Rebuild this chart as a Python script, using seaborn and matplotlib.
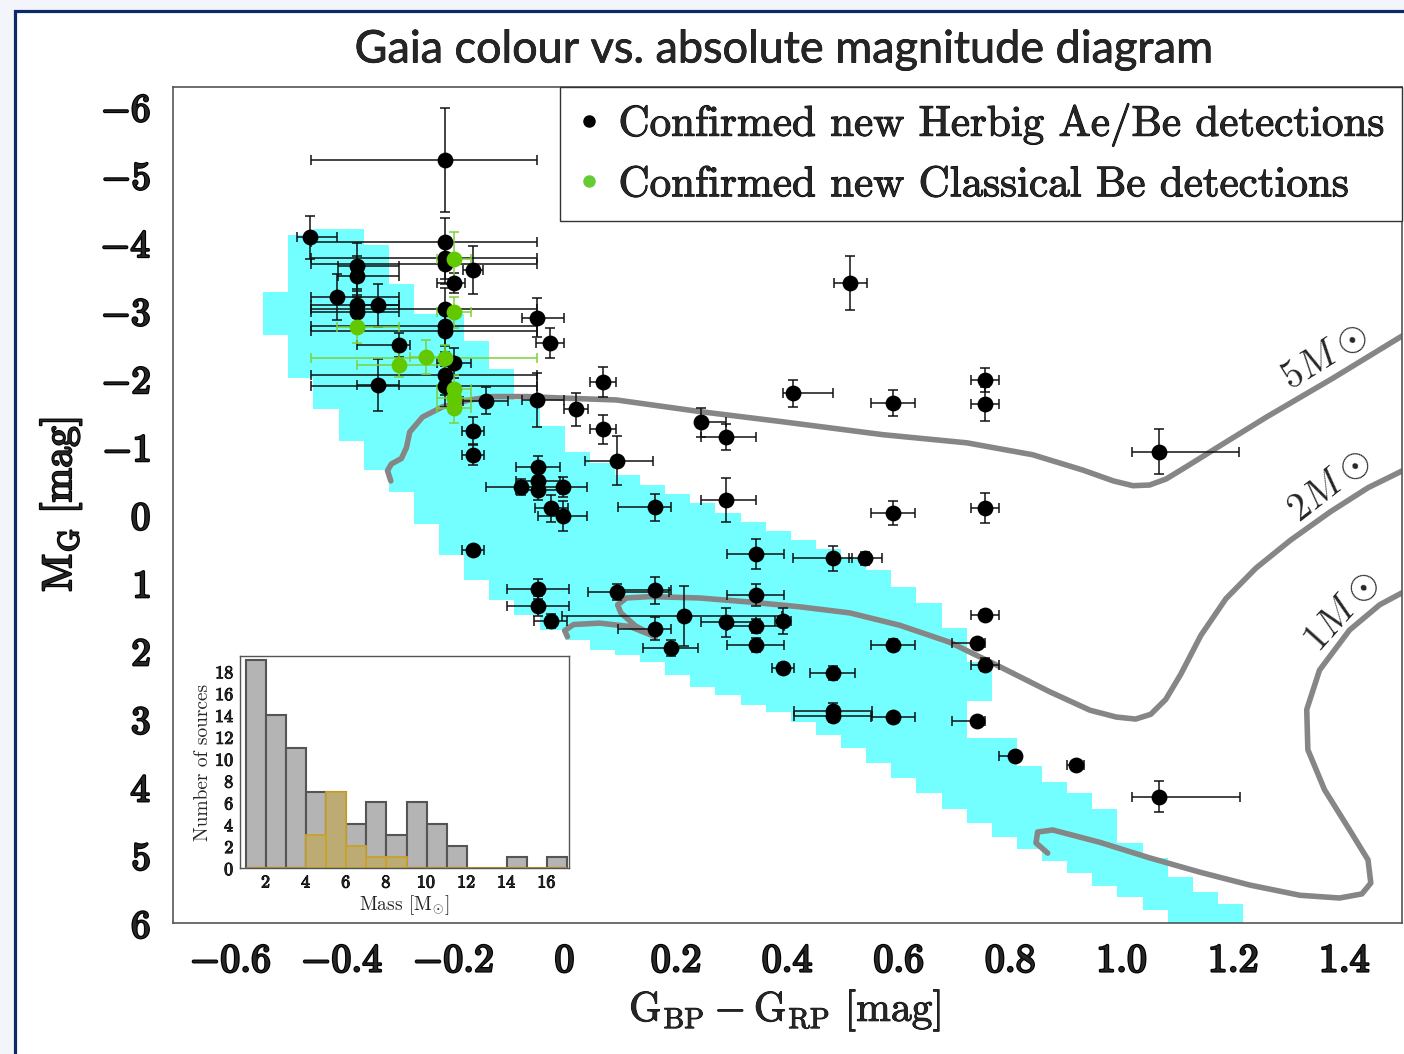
import numpy as np
import matplotlib
matplotlib.use("Agg")
import matplotlib.pyplot as plt
import seaborn as sns
from matplotlib.lines import Line2D
from matplotlib.patches import Rectangle
from matplotlib.font_manager import FontProperties
from matplotlib.ticker import MultipleLocator
import matplotlib.patheffects as pe

# ---------------- Herbig Ae/Be stars: colour, absolute magnitude, errors ----------------
hae_colour = [-0.457, -0.215, -0.215, -0.215, -0.215, -0.372, -0.372, -0.408, -0.372, -0.335,
              -0.372, -0.215, -0.215, -0.215, -0.297, -0.335, -0.215, -0.215, -0.199, -0.165,
              -0.199, -0.050, -0.026, -0.142, -0.050, -0.165, 0.020, 0.069, 0.069,
              0.094, -0.048, -0.079, -0.048, -0.048, -0.003, -0.024, -0.003, 0.162, 0.245,
              0.290, 0.410, 0.589, 0.290, 0.589, 0.343, 0.481, 0.540, -0.165, -0.165,
              -0.048, -0.048, -0.025, 0.094, 0.162, 0.343, 0.215, 0.162, 0.290, 0.343,
              0.392, 0.343, 0.589, 0.190, 0.392, 0.481, 0.481, 0.481, 0.589, 0.740,
              0.740, 0.754, 0.754, 0.808, 0.917, 1.067,
              0.754, 0.754, 0.754, 1.067, 0.513]
hae_mag = [-4.07, -5.21, -4.00, -3.76, -3.68, -3.65, -3.50, -3.19, -3.08, -3.07,
           -2.97, -3.02, -2.77, -2.69, -2.49, -1.90, -2.05, -1.88, -2.22, -3.59,
           -3.40, -2.89, -2.52, -1.67, -1.68, -1.23, -1.54, -1.95, -1.25,
           -0.79, -0.70, -0.40, -0.49, -0.36, -0.40, -0.09, 0.02, -0.10, -1.35,
           -1.14, -1.78, -1.64, -0.21, -0.02, 0.58, 0.65, 0.65, -0.87, 0.52,
           1.10, 1.35, 1.57, 1.14, 1.12, 1.19, 1.49, 1.68, 1.59, 1.64,
           1.57, 1.92, 1.92, 1.97, 2.26, 2.33, 2.89, 2.96, 2.98, 3.04,
           1.89, 1.48, 2.21, 3.55, 3.69, 4.15,
           -1.97, -1.62, -0.09, -0.92, -3.40]
hae_colour_err_lo = [0.024, 0.241, 0.241, 0.241, 0.241, 0.035, 0.035, 0.048, 0.084, 0.037,
                     0.084, 0.241, 0.241, 0.241, 0.075, 0.037, 0.241, 0.241, 0.030, 0.018,
                     0.030, 0.026, 0.025, 0.040, 0.026, 0.020, 0.022, 0.023, 0.023,
                     0.058, 0.040, 0.063, 0.040, 0.040, 0.044, 0.030, 0.044, 0.066, 0.005,
                     0.045, 0.018, 0.040, 0.045, 0.040, 0.052, 0.072, 0.030, 0.020, 0.020,
                     0.055, 0.055, 0.030, 0.052, 0.066, 0.052, 0.219, 0.066, 0.045, 0.052,
                     0.015, 0.052, 0.040, 0.050, 0.020, 0.040, 0.070, 0.070, 0.040, 0.045,
                     0.044, 0.025, 0.025, 0.028, 0.015, 0.049,
                     0.025, 0.025, 0.025, 0.049, 0.030]
hae_colour_err_hi = [0.049, 0.165, 0.165, 0.165, 0.165, 0.075, 0.075, 0.110, 0.075, 0.038,
                     0.075, 0.165, 0.165, 0.165, 0.020, 0.037, 0.165, 0.165, 0.030, 0.018,
                     0.020, 0.049, 0.025, 0.040, 0.049, 0.020, 0.022, 0.023, 0.023,
                     0.065, 0.040, 0.030, 0.040, 0.040, 0.044, 0.030, 0.044, 0.028, 0.044,
                     0.053, 0.072, 0.040, 0.053, 0.040, 0.050, 0.034, 0.030, 0.020, 0.020,
                     0.055, 0.055, 0.030, 0.094, 0.028, 0.050, 0.176, 0.028, 0.053, 0.050,
                     0.015, 0.050, 0.040, 0.050, 0.020, 0.040, 0.070, 0.070, 0.040, 0.014,
                     0.014, 0.025, 0.025, 0.010, 0.015, 0.145,
                     0.025, 0.025, 0.025, 0.144, 0.030]
hae_mag_err = [0.32, 0.76, 0.35, 0.30, 0.30, 0.34, 0.30, 0.34, 0.20, 0.32,
               0.25, 0.30, 0.30, 0.30, 0.18, 0.38, 0.30, 0.30, 0.22, 0.35,
               0.15, 0.29, 0.22, 0.20, 0.40, 0.20, 0.245, 0.22, 0.21,
               0.36, 0.15, 0.12, 0.15, 0.15, 0.15, 0.20, 0.22, 0.20, 0.21,
               0.19, 0.20, 0.19, 0.32, 0.18, 0.22, 0.18, 0.10, 0.15, 0.05,
               0.15, 0.15, 0.10, 0.12, 0.20, 0.16, 0.44, 0.17, 0.21, 0.10,
               0.19, 0.10, 0.08, 0.12, 0.08, 0.10, 0.12, 0.10, 0.05, 0.05,
               0.05, 0.08, 0.10, 0.05, 0.03, 0.23,
               0.18, 0.25, 0.22, 0.33, 0.40]

# ---------------- Classical Be stars ----------------
cbe_colour = [-0.199, -0.199, -0.372, -0.248, -0.215, -0.297, -0.199, -0.199, -0.199]
cbe_mag = [-3.75, -2.97, -2.75, -2.31, -2.29, -2.20, -1.84, -1.71, -1.56]
cbe_colour_err_lo = [0.030, 0.030, 0.036, 0.030, 0.241, 0.075, 0.030, 0.030, 0.030]
cbe_colour_err_hi = [0.030, 0.030, 0.075, 0.030, 0.165, 0.078, 0.030, 0.030, 0.030]
cbe_mag_err = [0.40, 0.23, 0.23, 0.25, 0.20, 0.18, 0.20, 0.15, 0.22]

# ---------------- Expected main-sequence band (pixelated columns) ----------------
band_width = 0.0451
band_col = list(range(-12, 27)) + [16]
band_top = [-3.26, -4.10, -4.20, -4.20, -3.96, -3.39, -2.95, -2.95, -2.54, -2.14,
            -1.68, -1.30, -0.92, -0.76, -0.57, -0.43, -0.30, -0.17, -0.02, 0.11,
            0.24, 0.38, 0.51, 0.64, 0.82, 1.07, 1.31, 1.67, 2.17, 3.29,
            3.70, 3.93, 4.10, 4.33, 4.83, 5.05, 5.33, 5.55, 5.73,
            3.29]
band_bottom = [-2.64, -2.00, -1.55, -1.07, -0.65, -0.33, 0.15, 0.60, 0.96, 1.26,
               1.48, 1.70, 1.85, 2.00, 2.07, 2.17, 2.36, 2.54, 2.66, 2.80,
               2.90, 3.06, 3.25, 3.43, 3.66, 3.88, 4.10, 4.33, 2.75, 4.74,
               4.92, 5.09, 5.27, 5.46, 5.63, 5.82, 6.30, 6.30, 6.30,
               4.54]

# ---------------- Pre-main-sequence evolutionary tracks ----------------
track5_colour = [-0.312, -0.318, -0.311, -0.293, -0.284, -0.278, -0.255, -0.219, -0.171, -0.129,
                 -0.068, -0.009, 0.093, 0.242, 0.391, 0.571, 0.722, 0.840, 0.930, 0.985,
                 1.020, 1.050, 1.080, 1.120, 1.171, 1.260, 1.379, 1.499, 1.560]
track5_mag = [-0.49, -0.64, -0.74, -0.82, -0.98, -1.21, -1.43, -1.58, -1.68, -1.73,
              -1.73, -1.71, -1.68, -1.51, -1.36, -1.17, -1.05, -0.875, -0.65, -0.49,
              -0.42, -0.43, -0.52, -0.72, -0.98, -1.43, -2.00, -2.60, -2.90]
track2_colour = [0.005, 0.000, 0.016, 0.063, 0.117, 0.163, 0.127, 0.101, 0.095, 0.111,
                 0.153, 0.242, 0.332, 0.422, 0.512, 0.601, 0.691, 0.781, 0.871, 0.943,
                 0.990, 1.025, 1.052, 1.079, 1.106, 1.142, 1.187, 1.241, 1.303, 1.375,
                 1.442, 1.499, 1.553]
track2_mag = [1.80, 1.71, 1.62, 1.60, 1.65, 1.80, 1.64, 1.45, 1.33, 1.23,
              1.21, 1.23, 1.29, 1.36, 1.45, 1.63, 1.88, 2.24, 2.61, 2.88,
              2.98, 3.01, 2.94, 2.72, 2.35, 1.78, 1.24, 0.79, 0.38, -0.04,
              -0.39, -0.62, -0.85]
track1_colour = [0.867, 0.846, 0.849, 0.876, 0.960, 1.050, 1.140, 1.230, 1.320, 1.391,
                 1.431, 1.447, 1.442, 1.409, 1.364, 1.334, 1.332, 1.355, 1.409, 1.463,
                 1.504, 1.560]
track1_mag = [4.98, 4.83, 4.67, 4.64, 4.82, 5.05, 5.26, 5.45, 5.60, 5.64,
              5.58, 5.42, 5.08, 4.64, 4.05, 3.46, 2.87, 2.29, 1.70, 1.33,
              1.15, 0.90]
track_labels = [r"$\mathrm{5}M\odot$", r"$\mathrm{2}M\odot$", r"$\mathrm{1}M\odot$"]

# ---------------- Mass histogram of the inset ----------------
mass_edges = list(range(1, 18))
mass_centres = [e + 0.5 for e in mass_edges[:-1]]
mass_counts_all = [19, 14, 11, 7, 7, 4, 6, 3, 6, 4, 2, 0, 0, 1, 0, 1]
mass_counts_cbe = [0, 0, 0, 3, 7, 2, 1, 1, 0, 0, 0, 0, 0, 0, 0, 0]

x_ticks = [-0.6, -0.4, -0.2, 0.0, 0.2, 0.4, 0.6, 0.8, 1.0, 1.2, 1.4]
x_tick_labels = ["-0.6", "-0.4", "-0.2", "0", "0.2", "0.4", "0.6", "0.8", "1.0", "1.2", "1.4"]
y_ticks = list(range(-6, 7))

# ---------------- Style ----------------
sns.set_style("white")
plt.rcParams["mathtext.fontset"] = "cm"
plt.rcParams["font.family"] = ["DejaVu Sans"]
plt.rcParams["axes.unicode_minus"] = True


def heavy(width, colour="black"):
    return [pe.withStroke(linewidth=width, foreground=colour)]


W, H = 1404, 1054
fig = plt.figure(figsize=(W / 100, H / 100), dpi=100)
fig.patch.set_facecolor("#f4f5fb")
frame = Rectangle((15 / W, -0.05), 1.1, (H - 11) / H + 0.05, transform=fig.transFigure,
                  facecolor="white", edgecolor="#0c2a68", linewidth=2.3, zorder=-5)
fig.add_artist(frame)

ax = fig.add_axes([173 / W, 1 - 922.5 / H, (1402 - 173) / W, (922.5 - 87) / H])
ax.set_facecolor("white")

# pixelated band
bx = np.array(band_col) * band_width
ax.bar(bx, np.array(band_bottom) - np.array(band_top), bottom=band_top, width=band_width,
       align="edge", color="#73ffff", linewidth=0, zorder=1)

# tracks
for tx, ty in [(track5_colour, track5_mag), (track2_colour, track2_mag), (track1_colour, track1_mag)]:
    ax.plot(tx, ty, color="#868686", lw=4.0, solid_capstyle="round", solid_joinstyle="round", zorder=2)

ax.text(1.364, -2.32, track_labels[0], rotation=32, fontsize=28, ha="center", va="center", zorder=6)
ax.text(1.373, -0.43, track_labels[1], rotation=38, fontsize=28, ha="center", va="center", zorder=6)
ax.text(1.395, 1.43, track_labels[2], rotation=48, fontsize=28, ha="center", va="center", zorder=6)

# error bars
ax.errorbar(hae_colour, hae_mag, xerr=[hae_colour_err_lo, hae_colour_err_hi], yerr=hae_mag_err,
            fmt="none", ecolor="#111111", elinewidth=1.1, capsize=3.5, capthick=1.1, zorder=3)
ax.errorbar(cbe_colour, cbe_mag, xerr=[cbe_colour_err_lo, cbe_colour_err_hi], yerr=cbe_mag_err,
            fmt="none", ecolor="#7dd13c", elinewidth=1.1, capsize=3.5, capthick=1.1, zorder=3)

sns.scatterplot(x=hae_colour, y=hae_mag, color="black", s=130, linewidth=0, ax=ax, zorder=4, legend=False)
sns.scatterplot(x=cbe_colour, y=cbe_mag, color="#62c800", s=130, linewidth=0, ax=ax, zorder=5, legend=False)

ax.set_xlim(-0.703, 1.503)
ax.set_ylim(6.0, -6.28)
ax.set_xticks(x_ticks)
ax.set_xticklabels([r"$%s$" % t for t in x_tick_labels], fontsize=28.5)
ax.set_yticks(y_ticks)
ax.set_yticklabels([r"$%d$" % t for t in y_ticks], fontsize=28)
for lab in ax.get_xticklabels() + ax.get_yticklabels():
    lab.set_path_effects(heavy(1.7))
ax.xaxis.set_minor_locator(MultipleLocator(0.025))
ax.yaxis.set_minor_locator(MultipleLocator(0.1))
ax.tick_params(which="both", direction="in", top=False, right=False, color="#444444")
ax.tick_params(which="major", length=6, width=1.0)
ax.tick_params(which="minor", length=3, width=0.8)
ax.tick_params(axis="y", which="major", pad=16)
ax.tick_params(axis="x", which="major", pad=13)
for s in ax.spines.values():
    s.set_color("#555555")
    s.set_linewidth(1.2)

ax.set_ylabel(r"$\mathrm{M_G\ [mag]}$", fontsize=30)
ax.yaxis.label.set_path_effects(heavy(1.4))
ax.yaxis.set_label_coords(-0.073, 0.5)
ax.set_xlabel(r"$\mathrm{G_{BP} - G_{RP}\ [mag]}$", fontsize=30)
ax.xaxis.label.set_path_effects(heavy(0.6))
ax.xaxis.set_label_coords(0.498, -0.078)

title = fig.text(783.5 / W, 1 - 50 / H, "Gaia colour vs. absolute magnitude diagram",
                 ha="center", va="center", fontsize=32.4, family="Lato")
title.set_path_effects(heavy(0.5))

handles = [Line2D([], [], marker="o", ls="none", color="black", markersize=8),
           Line2D([], [], marker="o", ls="none", color="#66cc33", markersize=8)]
leg = ax.legend(handles, ["Confirmed new Herbig Ae/Be detections", "Confirmed new Classical Be detections"],
                loc="upper right", bbox_to_anchor=(1, 1), borderaxespad=0, frameon=True, fancybox=False,
                edgecolor="#333333", framealpha=1, prop=FontProperties(family="cmr10", size=31),
                handlelength=0.55, handletextpad=0.4, borderpad=0.4, labelspacing=0.45)
leg.get_frame().set_linewidth(1.0)
leg.set_zorder(7)
for t in leg.get_texts():
    t.set_path_effects(heavy(0.7))

# ---------------- Inset: mass distribution ----------------
axi = fig.add_axes([240 / W, 1 - 868 / H, 329 / W, 212 / H])
axi.set_facecolor("white")
sns.histplot(x=mass_centres, weights=mass_counts_all, bins=mass_edges, ax=axi,
             color="#b4b4b4", edgecolor="#555555", linewidth=1.5, alpha=1.0)
sns.histplot(x=mass_centres, weights=mass_counts_cbe, bins=mass_edges, ax=axi,
             color="#bcab72", edgecolor="#c9a22a", linewidth=1.3, alpha=1.0)
axi.set_xlim(0.7, 17.1)
axi.set_ylim(0, 19.4)
axi.set_xticks(range(2, 17, 2))
axi.set_xticklabels([r"$%d$" % t for t in range(2, 17, 2)], fontsize=13)
axi.set_yticks(range(0, 19, 2))
axi.set_yticklabels([r"$%d$" % t for t in range(0, 19, 2)], fontsize=13)
for lab in axi.get_xticklabels() + axi.get_yticklabels():
    lab.set_path_effects(heavy(0.7))
axi.tick_params(direction="in", length=3, width=0.8, pad=4, color="#444444")
axi.set_xlabel(r"Mass [M$_{\odot}$]", fontsize=14, family="cmr10", labelpad=1)
axi.set_ylabel("Number of sources", fontsize=14, family="cmr10", labelpad=2)
for s in axi.spines.values():
    s.set_color("#555555")
    s.set_linewidth(1.0)

fig.savefig("out.png", dpi=100, facecolor=fig.get_facecolor())
